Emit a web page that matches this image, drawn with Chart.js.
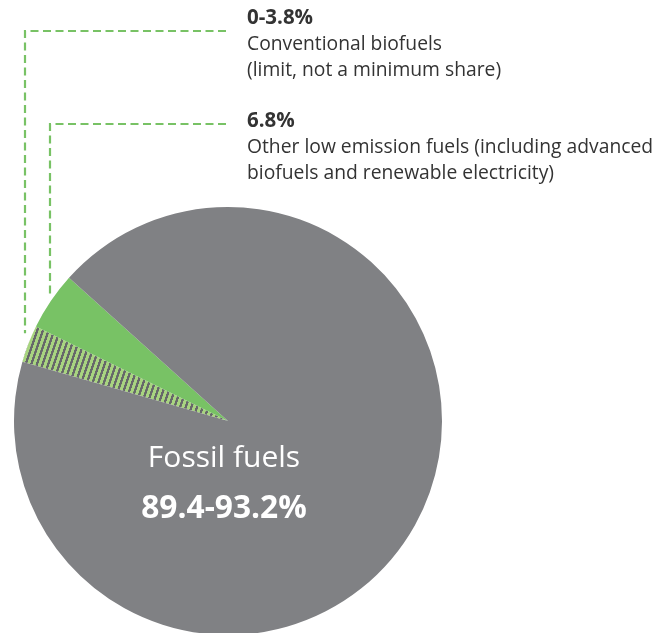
<!DOCTYPE html>
<html>
<head>
<meta charset="utf-8">
<script src="https://cdn.jsdelivr.net/npm/chart.js@4"></script>
<style>
  html, body { margin: 0; padding: 0; background: #fff; overflow: hidden; }
  #wrap { position: relative; width: 661px; height: 640px; }
</style>
</head>
<body>
<div id="wrap"><canvas id="pie"></canvas></div>
<script>
// ---------------------------
// Data (shares as drawn in the picture)
// ---------------------------
const sliceLabels = ['Conventional biofuels', 'Other low emission fuels', 'Fossil fuels'];
const sliceShares = [2.8, 4.4, 92.8];
const calloutTitles = ['0-3.8%', '6.8%'];
const calloutLines = [
  ['Conventional biofuels', '(limit, not a minimum share)'],
  ['Other low emission fuels (including advanced', 'biofuels and renewable electricity)']
];
const centerTitle = 'Fossil fuels';
const centerValue = '89.4-93.2%';

const GREEN = '#78c265';
const GREY = '#808184';

// striped fill for the conventional biofuels slice
function makeStripes() {
  const tile = document.createElement('canvas');
  tile.width = 16;
  tile.height = 4;
  const t = tile.getContext('2d');
  t.fillStyle = '#a8d480';
  t.fillRect(0, 0, 9, 4);
  t.fillStyle = '#66676a';
  t.fillRect(9, 0, 7, 4);
  const pat = t.createPattern(tile, 'repeat');
  pat.setTransform(new DOMMatrix().rotate(19).scale(1 / 3));
  return pat;
}

// ---------------------------
// Callouts + centre label
// ---------------------------
const annotations = {
  id: 'annotations',
  afterDraw(chart) {
    const ctx = chart.ctx;
    const arcs = chart.getDatasetMeta(0).data;
    const cx = arcs[0].x, cy = arcs[0].y, r = arcs[0].outerRadius;

    // dashed leaders: [x of vertical, y of horizontal, gap above the arc]
    const leaders = [[25, 31, 20], [50, 124, 8]];
    ctx.save();
    ctx.strokeStyle = GREEN;
    ctx.lineWidth = 2.2;
    ctx.setLineDash([8, 4.5]);
    leaders.forEach(([lx, ly, gap]) => {
      const arcY = cy - Math.sqrt(r * r - (lx - cx) * (lx - cx));
      ctx.beginPath();
      ctx.moveTo(226, ly);
      ctx.lineTo(lx, ly);
      ctx.lineTo(lx, arcY - gap);
      ctx.stroke();
    });
    ctx.restore();

    // callout text
    ctx.save();
    ctx.fillStyle = '#333333';
    ctx.textAlign = 'left';
    ctx.textBaseline = 'alphabetic';
    const tops = [24, 127];
    calloutTitles.forEach((title, i) => {
      ctx.font = 'bold 20.5px "Open Sans"';
      ctx.fillText(title, 247, tops[i]);
      ctx.font = '19.3px "Open Sans"';
      calloutLines[i].forEach((line, j) => {
        ctx.fillText(line, 247, tops[i] + 26 + j * 25.5);
      });
    });

    // centre label
    ctx.fillStyle = '#ffffff';
    ctx.textAlign = 'center';
    ctx.font = '30px "Open Sans"';
    ctx.fillText(centerTitle, cx - 4, cy + 46);
    ctx.font = 'bold 31.7px "Open Sans"';
    ctx.fillText(centerValue, cx - 4, cy + 97);
    ctx.restore();
  }
};

new Chart(document.getElementById('pie'), {
  type: 'pie',
  data: {
    labels: sliceLabels,
    datasets: [{
      data: sliceShares,
      backgroundColor: [makeStripes(), GREEN, GREY],
      borderWidth: 0,
      hoverOffset: 0
    }]
  },
  options: {
    responsive: true,
    maintainAspectRatio: false,
    animation: false,
    rotation: 286.1,
    layout: { padding: { left: 14, right: 219, top: 207, bottom: 5 } },
    plugins: {
      legend: { display: false },
      tooltip: { enabled: false }
    }
  },
  plugins: [annotations]
});
</script>
</body>
</html>
